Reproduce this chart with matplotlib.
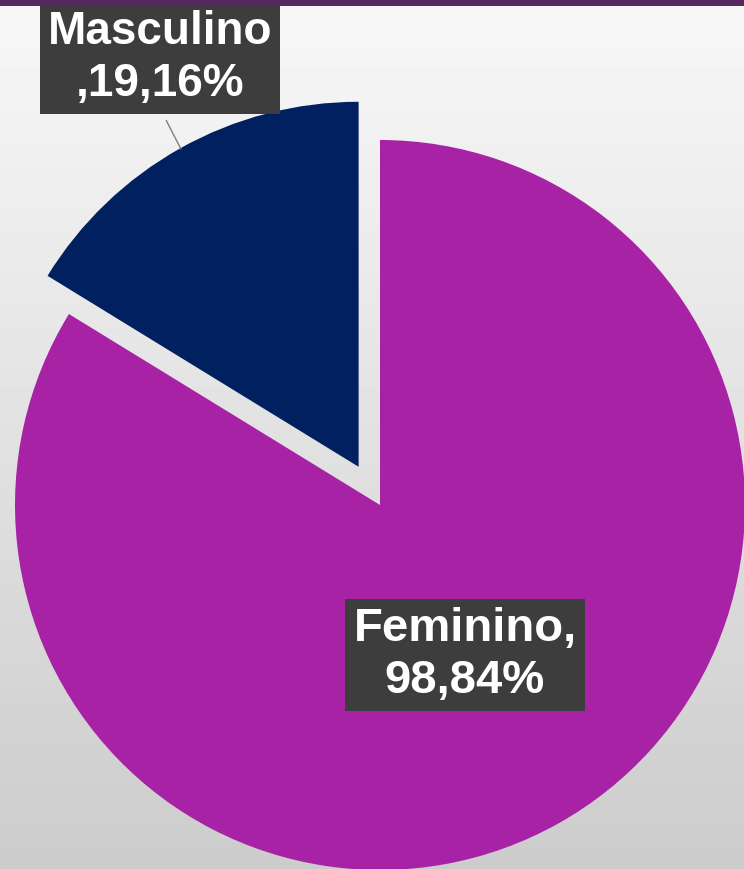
import matplotlib
matplotlib.use("Agg")
import matplotlib.pyplot as plt
import numpy as np

# data
categories = ["Feminino", "Masculino"]
values = [98.84, 19.16]
label_texts = ["Feminino,\n98,84%", "Masculino\n,19,16%"]
colors = ["#A822A6", "#002060"]
explode = [0.0, 0.12]  # fraction of radius

W, H = 744, 869
CENTER = (380, H - 505)
RADIUS = 365
LABEL_POS = [(465, H - 655), (160, H - 58)]
LABEL_SIZE = [34, 33]

plt.rcParams["font.family"] = ["Liberation Sans", "DejaVu Sans"]

fig = plt.figure(figsize=(W / 100, H / 100), dpi=100)
ax = fig.add_axes([0, 0, 1, 1])

# background: light gradient, white at the top to grey at the bottom
grad = np.linspace(0.97, 0.80, 256).reshape(-1, 1)
ax.imshow(grad, extent=(0, W, 0, H), cmap="gray", vmin=0, vmax=1,
          aspect="auto", zorder=0)

# matplotlib's explode is in data units, so scale it by the radius
wedges, _ = ax.pie(values, colors=colors,
                   explode=[e * RADIUS for e in explode], startangle=90,
                   counterclock=False, center=CENTER, radius=RADIUS,
                   wedgeprops=dict(linewidth=0), frame=True)
ax.set_xlim(0, W)
ax.set_ylim(0, H)
ax.set_aspect("equal")
ax.axis("off")

for w in wedges:
    w.set_zorder(2)

# leader line for Masculino: from box to arc midpoint
m = wedges[1]
mid = np.deg2rad((m.theta1 + m.theta2) / 2)
tip = (m.center[0] + m.r * np.cos(mid) * 0.99, m.center[1] + m.r * np.sin(mid) * 0.99)
ax.annotate("", xy=tip, xytext=(LABEL_POS[1][0] + 5, LABEL_POS[1][1] - 60),
            arrowprops=dict(arrowstyle="-", color="#7f7f7f", lw=1), zorder=3)

for txt, (x, y), size in zip(label_texts, LABEL_POS, LABEL_SIZE):
    ax.text(x, y, txt, ha="center", va="center", fontsize=size,
            fontweight="bold", color="white", linespacing=1.25, zorder=4,
            bbox=dict(boxstyle="square,pad=0.17", facecolor="#3d3d3d",
                      edgecolor="none"))

# thin purple bar at the very top
fig.patches.append(plt.Rectangle((0, 1 - 6 / H), 1, 6 / H, transform=fig.transFigure,
                                 facecolor="#55285f", edgecolor="none", zorder=10))

fig.savefig("out.png", dpi=100)
